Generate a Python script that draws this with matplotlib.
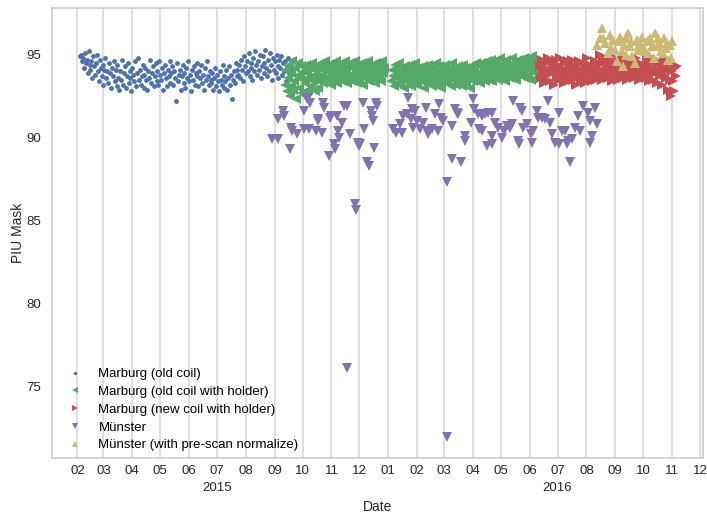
import matplotlib
matplotlib.use("Agg")
import matplotlib.pyplot as plt
import matplotlib.dates as mdates
import numpy as np
import pandas as pd

# PIU values
# Marburg old coil: daily values from 2015-02-04
blue_start = "2015-02-04"
blue_vals = [
    94.9, 95.0, 94.6, 94.8, 94.2, 95.1, 94.5, 94.7, 93.9, 95.2, 94.4, 94.1, 94.6, 93.6, 94.9,
    94.3, 93.8, 94.5, 95.0, 94.0, 93.4, 94.7, 94.2, 93.7, 94.4, 93.2, 94.1, 94.8, 93.6, 94.0,
    93.3, 94.5, 93.9, 93.0, 94.2, 93.7, 94.6,
    93.4, 94.1, 93.1, 94.4, 93.6, 92.9, 94.0, 93.5, 94.7, 93.2, 93.9, 94.3, 93.0, 93.7, 94.5,
    93.3, 94.0, 93.6, 92.8, 94.2, 93.8, 93.4, 94.6, 93.1, 93.9, 94.8, 93.5, 94.1, 93.2, 93.7,
    94.4, 93.0, 93.8, 94.2, 93.5, 92.9, 94.0, 93.6, 94.7, 93.3, 93.9, 94.3, 93.1, 93.7, 94.5,
    93.4, 94.0, 93.2, 94.6, 93.8, 93.5, 94.2, 92.9, 93.9, 94.4, 93.6, 93.1, 94.1, 93.7, 94.6,
    93.3,
    93.9, 94.3, 93.2, 94.0, 93.6, 92.2, 94.5, 93.4, 93.8, 94.1, 92.9, 93.7, 94.4, 93.3, 93.9,
    93.0, 94.2, 93.6, 94.6, 93.4, 93.8, 92.8, 94.1, 93.5, 94.3, 93.2, 93.9, 94.5, 93.7, 93.1,
    94.0, 93.6, 94.4, 93.3, 93.8, 92.9, 94.2, 93.5, 94.6, 93.7, 93.2, 94.0, 93.5,
    93.3, 93.9, 92.9, 93.6, 94.2, 93.1, 93.8, 93.4, 92.8, 94.0, 93.5, 93.2, 94.4, 93.0, 93.7,
    93.4, 94.1, 92.9, 93.6, 94.3, 93.2, 93.8, 92.3, 93.5, 94.0, 93.3, 94.5, 93.7, 94.1,
    93.8, 94.4, 93.6, 94.7, 94.1, 93.4, 94.9, 94.3, 93.9, 94.6, 94.0, 95.1, 93.7, 94.5, 94.2,
    93.5, 94.8, 94.0, 95.2, 94.4, 93.8, 94.6, 94.1, 95.0, 93.6, 94.3, 94.9, 93.9, 94.5, 95.3,
    94.2, 93.7, 94.7, 94.0, 95.1, 94.4, 93.5, 94.8, 94.1, 94.6, 93.9, 95.0, 94.3, 93.6, 94.7,
    94.2, 94.9, 93.8, 94.5, 94.0, 94.6, 93.4, 94.3, 94.8, 93.9, 94.4, 94.1,
]

# Marburg old coil with holder: two daily runs (break over new year)
green_start_a = "2015-09-12"
green_vals_a = [
    93.2, 94.1, 92.8, 93.6, 94.4, 92.5, 93.9, 93.1, 94.6, 92.9, 93.4, 94.2, 92.3, 93.7, 94.5,
    93.0, 93.8, 94.3, 92.7, 93.5, 94.0, 92.6, 93.3, 94.4, 93.9, 92.9, 93.6, 94.2, 93.1, 94.5,
    93.4, 93.8, 92.8, 94.1, 93.5, 94.3, 93.0,
    94.2, 93.5, 94.5, 93.8, 93.3, 94.1, 94.6, 93.6, 94.0, 93.4, 94.4, 93.9, 93.2, 94.3, 93.7,
    94.5, 93.5, 94.0, 94.6, 93.3, 93.8, 94.2, 93.6, 94.4, 93.4, 94.1, 93.9, 94.6, 93.5, 94.0,
    93.3, 94.3, 93.7, 94.5, 93.8, 93.4, 94.2, 93.6, 94.6, 94.0, 93.3, 93.9, 94.4, 93.5, 94.1,
    93.7, 94.5, 93.2, 94.0, 93.8, 94.3, 93.6, 94.6, 93.4, 93.9, 94.2, 93.5, 94.4, 93.7, 94.0,
    93.3, 94.5, 93.8, 94.1, 93.6, 94.3, 93.4, 94.6, 93.9, 94.2,
]
green_start_b = "2016-01-04"
green_vals_b = [
    93.4, 94.1, 93.7, 93.1, 94.4, 93.8, 93.3, 94.0, 93.6, 94.5, 93.2, 93.9, 94.2, 93.5, 93.0,
    94.3, 93.7, 93.4, 94.0, 93.8, 94.4, 93.1, 93.6, 94.1, 93.3, 93.9, 94.5, 93.5, 93.2, 94.2,
    93.7, 94.0, 93.4, 93.8, 94.3, 93.0, 93.6, 94.1, 93.9, 93.3, 94.4, 93.5, 93.8, 94.2, 93.1,
    93.7, 94.0, 93.4, 94.5, 93.6, 93.2, 93.9, 94.3, 93.5, 93.0, 94.1, 93.8, 93.4, 94.4, 93.6,
    93.3, 94.0, 93.7, 94.2, 93.1, 93.9, 94.5, 93.5, 93.8, 94.1, 93.2, 93.6, 94.3, 93.4, 94.0,
    93.7, 93.1, 94.4, 93.8, 93.5, 94.2, 93.3, 93.9, 94.1, 93.6, 93.0, 94.3, 93.7, 93.4, 94.0,
    93.8, 94.5, 93.5,
    93.6, 94.3, 93.9, 93.3, 94.5, 94.0, 93.7, 94.4, 93.4, 94.1, 94.6, 93.8, 93.5, 94.2, 94.7,
    93.9, 93.4, 94.4, 94.0, 93.7, 94.6, 94.1, 93.5, 94.3, 94.8, 93.8, 94.2, 93.6, 94.5, 94.0,
    93.4, 94.7, 94.1, 93.9, 94.4, 93.6, 94.2, 94.8, 93.8, 94.5, 94.0, 93.5, 94.3, 94.7, 93.9,
    94.1, 94.6, 93.7, 94.4, 94.0, 94.8, 93.6, 94.2, 94.5, 93.8, 94.7, 94.1, 93.5, 94.3, 94.9,
    94.0, 94.6, 93.9, 94.4,
]

# Marburg new coil with holder: daily from 2016-06-12
red_start = "2016-06-12"
red_vals = [
    94.3, 93.6, 94.7, 94.0, 93.3, 94.5, 93.8, 94.2, 93.5, 94.8, 94.1, 93.4, 94.6, 93.9, 94.3,
    93.2, 94.0, 94.7, 93.7, 94.4, 93.5, 94.1, 94.8, 93.6, 94.2, 93.9, 93.3, 94.5, 94.0, 93.7,
    94.6, 93.4, 94.3, 93.8, 94.7, 94.0, 93.5, 94.4, 93.9, 93.2, 94.2, 93.7, 94.6, 94.1, 93.4,
    94.5, 93.8, 94.0, 93.3, 94.3, 93.6, 94.8, 94.1, 93.5, 94.4, 93.9, 93.4, 94.2, 93.7, 94.6,
    93.5, 94.0, 93.8,
    94.4, 93.7, 95.0, 94.1, 93.5, 94.6, 94.0, 93.8, 94.8, 94.3, 93.6, 94.5, 93.9, 94.9, 94.2,
    93.4, 94.7, 94.0, 93.7, 94.4, 94.1, 93.5, 94.6, 93.9, 94.3, 94.8, 93.6, 94.2, 93.8, 94.5,
    94.0, 93.5, 94.7, 94.1, 93.7, 94.4, 93.9, 94.6, 93.6, 94.2, 94.8, 93.8, 94.3, 93.5, 94.0,
    94.5, 93.7, 94.1, 94.4, 93.9,
    94.3, 93.6, 94.7, 94.0, 93.4, 94.5, 93.8, 94.2, 94.8, 93.5, 94.1, 93.9, 94.6, 93.3, 94.4,
    94.0, 93.7, 94.5, 93.2, 94.2, 94.7, 93.8, 94.3, 93.6, 94.1, 92.9, 94.6, 93.5, 92.5, 94.0,
    93.4, 92.8, 94.2, 93.7, 94.3,
]

# Muenster: days counted from 2015-01-01
purple_days = [
    240, 246, 247, 252, 253, 259, 261, 262, 267, 274, 275, 278, 279, 281, 280, 287, 289, 290,
    294, 295, 296, 301, 302, 304, 307, 308, 310, 311, 312, 315, 317, 321, 321, 324, 329, 330,
    332, 334, 335, 338, 339, 342, 344, 346, 348, 349, 350, 352, 353,
    370, 373, 378, 380, 381, 385, 386, 389, 391, 392, 394, 396, 399, 402, 406, 407, 408, 412,
    415, 419, 420, 422, 424, 428, 428, 434, 434, 437, 439, 440, 443, 448, 448, 454, 456, 457,
    461, 462, 466, 466, 469, 471, 472, 476, 477, 477, 480, 483, 487, 489, 493, 496, 498, 499,
    504, 505, 507, 509, 510, 514, 518, 520, 521, 525, 526, 530, 534, 537, 539, 541, 544, 548,
    548, 552, 555, 557, 558, 560, 563, 566, 569, 571, 574, 580, 582, 582, 584, 587, 589,
]
purple_vals = [
    89.9, 89.9, 91.1, 91.6, 91.3, 89.3, 90.6, 90.4, 90.2, 91.6, 90.5, 92.3, 92.4, 92.1, 90.5,
    90.4, 91.0, 91.1, 90.3, 92.1, 91.8, 88.9, 91.2, 91.3, 89.6, 89.3, 91.3, 90.4, 90.0, 90.9,
    91.9, 91.9, 76.1, 90.2, 86.0, 85.6, 89.7, 89.5, 89.6, 92.1, 90.5, 88.5, 88.3, 91.6, 91.3,
    91.0, 89.4, 92.1, 91.9,
    90.5, 90.3, 90.8, 90.3, 91.3, 91.4, 92.4, 91.1, 91.7, 90.6, 91.6, 91.0, 90.5, 90.9, 91.8,
    90.4, 90.2, 90.5, 91.4, 90.4, 92.0, 91.2, 91.0, 87.3, 71.9, 88.7, 90.7, 91.7, 91.5, 91.4,
    88.5, 90.1, 89.8, 90.9, 92.3, 91.7, 91.4, 90.5, 91.3, 90.4, 91.4, 89.5, 91.5, 89.6, 91.5,
    90.1, 90.9, 90.6, 90.0, 90.4, 90.7, 90.6, 90.8, 92.2, 89.8, 89.6, 91.8, 91.6, 90.6, 90.8,
    90.2, 89.7, 90.4, 91.6, 91.2, 91.2, 91.1, 92.2, 90.9, 90.2, 89.7, 89.6, 91.5, 90.4, 90.4,
    89.6, 89.8, 88.5, 89.9, 90.6, 91.3, 90.4, 91.9, 91.5, 91.0, 89.7, 90.1, 91.8, 90.8,
]

# Muenster with pre-scan normalize: days counted from 2015-01-01
gold_days = [
    589, 593, 595, 596, 598, 601, 603, 604, 607, 609, 611, 612, 614, 616, 617, 618, 620, 621,
    623, 625, 626, 627, 630, 632, 633, 635, 636, 638, 640, 641, 643, 644, 645, 646, 648, 649,
    651, 652, 654, 655, 657, 658, 660, 661, 663, 665, 666, 668, 669, 670,
]
gold_vals = [
    95.6, 96.0, 96.6, 96.0, 95.7, 95.1, 96.2, 95.4, 95.9, 95.3, 94.6, 95.8, 96.1, 95.2, 94.3,
    95.6, 95.0, 96.0, 96.3, 95.5, 95.8, 94.9, 94.5, 95.9, 95.3, 95.6, 95.7, 96.1, 95.4, 95.2,
    95.8, 95.1, 95.9, 96.0, 95.5, 95.6, 94.8, 96.3, 95.5, 96.0, 95.7, 95.2, 95.1, 96.0, 95.4,
    95.7, 94.7, 95.6, 94.8, 95.8,
]

labels = ["Marburg (old coil)", "Marburg (old coil with holder)",
          "Marburg (new coil with holder)", "Münster",
          "Münster (with pre-scan normalize)"]
colors = ["#4C72B0", "#55A868", "#C44E52", "#8172B2", "#CCB974"]

day0 = pd.Timestamp("2015-01-01")
blue_x = pd.date_range(blue_start, periods=len(blue_vals))
green_x = pd.date_range(green_start_a, periods=len(green_vals_a)).append(
    pd.date_range(green_start_b, periods=len(green_vals_b)))
green_y = green_vals_a + green_vals_b
red_x = pd.date_range(red_start, periods=len(red_vals))
purple_x = day0 + pd.to_timedelta(purple_days, unit="D")
gold_x = day0 + pd.to_timedelta(gold_days, unit="D")

plt.rcParams["font.family"] = ["Liberation Sans", "DejaVu Sans"]

fig = plt.figure(figsize=(7.07, 5.18), dpi=100)
ax = fig.add_axes([0.074, 0.116, 0.920, 0.869])

ax.plot(blue_x, blue_vals, ".", color=colors[0], ms=7, mew=0, label=labels[0])
ax.plot(green_x, green_y, "<", color=colors[1], ms=7.0, mew=0, label=labels[1])
ax.plot(red_x, red_vals, ">", color=colors[2], ms=7.0, mew=0, label=labels[2])
ax.plot(purple_x, purple_vals, "v", color=colors[3], ms=6.6, mew=0, label=labels[3])
ax.plot(gold_x, gold_vals, "^", color=colors[4], ms=6.6, mew=0, label=labels[4])

ax.set_xlim(pd.Timestamp("2015-01-05"), pd.Timestamp("2016-12-04"))

ax.xaxis.set_major_locator(mdates.MonthLocator(bymonth=7))
ax.xaxis.set_major_formatter(mdates.DateFormatter("%m\n%Y"))
ax.xaxis.set_minor_locator(mdates.MonthLocator())
ax.xaxis.set_minor_formatter(mdates.DateFormatter("%m"))

ax.xaxis.grid(True, which="both", color="#d4d4d4", lw=1.1)
ax.yaxis.grid(False)
ax.set_axisbelow(True)
for s in ax.spines.values():
    s.set_color("#cccccc")
    s.set_linewidth(1.2)

ax.tick_params(axis="both", which="both", length=0, labelsize=9.5,
               labelcolor="#262626", pad=5)
ax.tick_params(axis="y", pad=8)
for lbl in ax.get_xticklabels():
    lbl.set_linespacing(1.6)
ax.set_xlabel("Date", fontsize=10, color="#262626", labelpad=4)
ax.set_ylabel("PIU Mask", fontsize=10, color="#262626", labelpad=1)

ax.legend(loc="lower left", frameon=False, fontsize=9.5, markerscale=0.7,
          numpoints=1, handlelength=1.6, handletextpad=1.0, labelspacing=0.42,
          bbox_to_anchor=(0.0, -0.012))

fig.savefig("out.png", dpi=100)
